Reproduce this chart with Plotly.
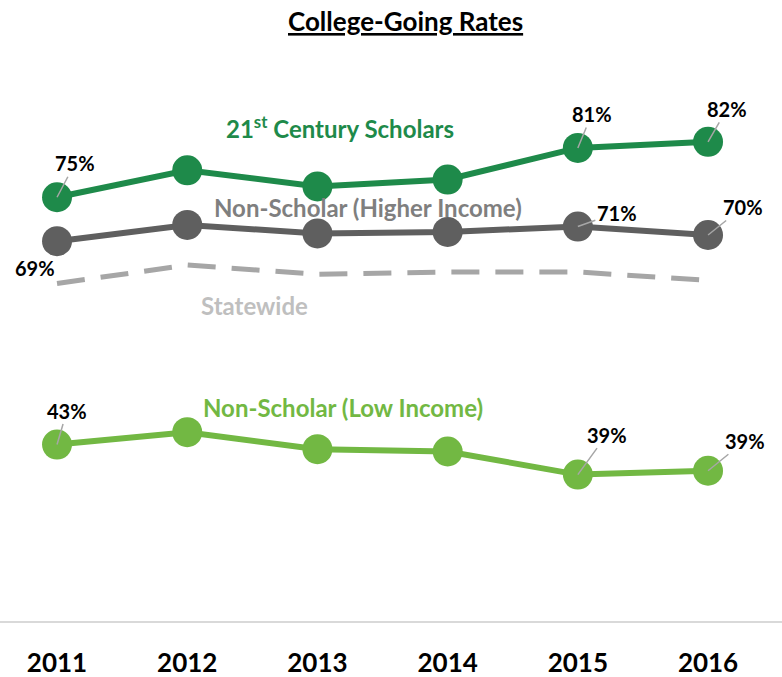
import plotly.graph_objects as go

years = ["2011", "2012", "2013", "2014", "2015", "2016"]
scholars = [75.0, 78.5, 76.4, 77.3, 81.4, 82.2]
higher_income = [69.3, 71.4, 70.3, 70.5, 71.2, 70.1]
statewide = [63.8, 66.2, 65.0, 65.3, 65.3, 64.2]
low_income = [42.9, 44.5, 42.3, 42.0, 39.0, 39.5]

scholar_labels = ["75%", None, None, None, "81%", "82%"]
higher_labels = ["69%", None, None, None, "71%", "70%"]
low_labels = ["43%", None, None, None, "39%", "39%"]

C_SCH = "#1E8A4A"
C_HIGH = "#5F5F5F"
C_STATE = "#A6A6A6"
C_LOW = "#72B843"
FONT = "Lato, 'Open Sans', sans-serif"

xs = list(range(len(years)))

fig = go.Figure()
fig.add_trace(go.Scatter(x=xs, y=statewide, mode="lines",
                         line=dict(color=C_STATE, width=5, dash="28px,16px"),
                         hoverinfo="skip"))
fig.add_trace(go.Scatter(x=xs, y=higher_income, mode="lines+markers",
                         line=dict(color=C_HIGH, width=6),
                         marker=dict(size=30, color=C_HIGH)))
fig.add_trace(go.Scatter(x=xs, y=scholars, mode="lines+markers",
                         line=dict(color=C_SCH, width=6),
                         marker=dict(size=30, color=C_SCH)))
fig.add_trace(go.Scatter(x=xs, y=low_income, mode="lines+markers",
                         line=dict(color=C_LOW, width=6),
                         marker=dict(size=30, color=C_LOW)))

# data label offsets (pixels) for each labelled point
offsets_sch = {0: (18, -34), 4: (14, -34), 5: (19, -33)}
offsets_high = {0: (-22, 27), 4: (39, -14), 5: (35, -28)}
offsets_low = {0: (10, -34), 4: (29, -40), 5: (37, -30)}

annotations = []
def add_labels(vals, labels, offs, leader_skip=()):
    for i, lab in enumerate(labels):
        if lab is None:
            continue
        ax, ay = offs[i]
        if i in leader_skip:
            annotations.append(dict(x=xs[i], y=vals[i], text=f"<b>{lab}</b>",
                                    showarrow=False, xshift=ax, yshift=-ay,
                                    font=dict(family=FONT, size=20, color="#000000")))
        else:
            annotations.append(dict(x=xs[i], y=vals[i], text=f"<b>{lab}</b>",
                                    showarrow=True, arrowhead=0, arrowwidth=1.5,
                                    arrowcolor="#A6A6A6", ax=ax, ay=ay, standoff=0,
                                    startstandoff=0,
                                    font=dict(family=FONT, size=20, color="#000000")))

add_labels(scholars, scholar_labels, offsets_sch)
add_labels(higher_income, higher_labels, offsets_high, leader_skip=(0,))
add_labels(low_income, low_labels, offsets_low)

# series names
def series_name(text, x, y, color):
    annotations.append(dict(x=x, y=y, xref="x", yref="y", text=f"<b>{text}</b>",
                            showarrow=False,
                            font=dict(family=FONT, size=24, color=color)))

series_name("21<sup>st</sup> Century Scholars", 2.17, 75 + (197 - 127) / 7.7, C_SCH)
series_name("Non-Scholar (Higher Income)", 2.39, 75 - (207 - 197) / 7.7, "#7F7F7F")
series_name("Statewide", 1.52, 75 - (305 - 197) / 7.7, "#BFBFBF")
series_name("Non-Scholar (Low Income)", 2.2, 75 - (407 - 197) / 7.7, C_LOW)

# title
annotations.append(dict(x=405 / 782, y=(621 - 21) / 621, xref="paper", yref="paper",
                        yanchor="middle", xanchor="center",
                        text="<b><u>College-Going Rates</u></b>", showarrow=False,
                        font=dict(family=FONT, size=26, color="#000000")))

fig.update_layout(
    width=782, height=677,
    margin=dict(l=0, r=0, t=0, b=56),
    paper_bgcolor="white", plot_bgcolor="white",
    showlegend=False,
    annotations=annotations,
    font=dict(family=FONT),
)
fig.update_xaxes(range=[-0.438, 5.568], tickmode="array", tickvals=xs, ticktext=[f"<b>{y}</b>" for y in years],
                 tickfont=dict(family=FONT, size=26, color="#000000"),
                 showgrid=False, zeroline=False, showline=True, linecolor="#D9D9D9", linewidth=2,
                 ticks="", ticklabelstandoff=18, automargin=False)
fig.update_yaxes(range=[20, 100.6], visible=False, showgrid=False, zeroline=False, automargin=False)

fig.write_html("out.html", config={"displayModeBar": False},
               post_script="document.body.style.margin='0px';document.body.style.overflow='hidden';")
